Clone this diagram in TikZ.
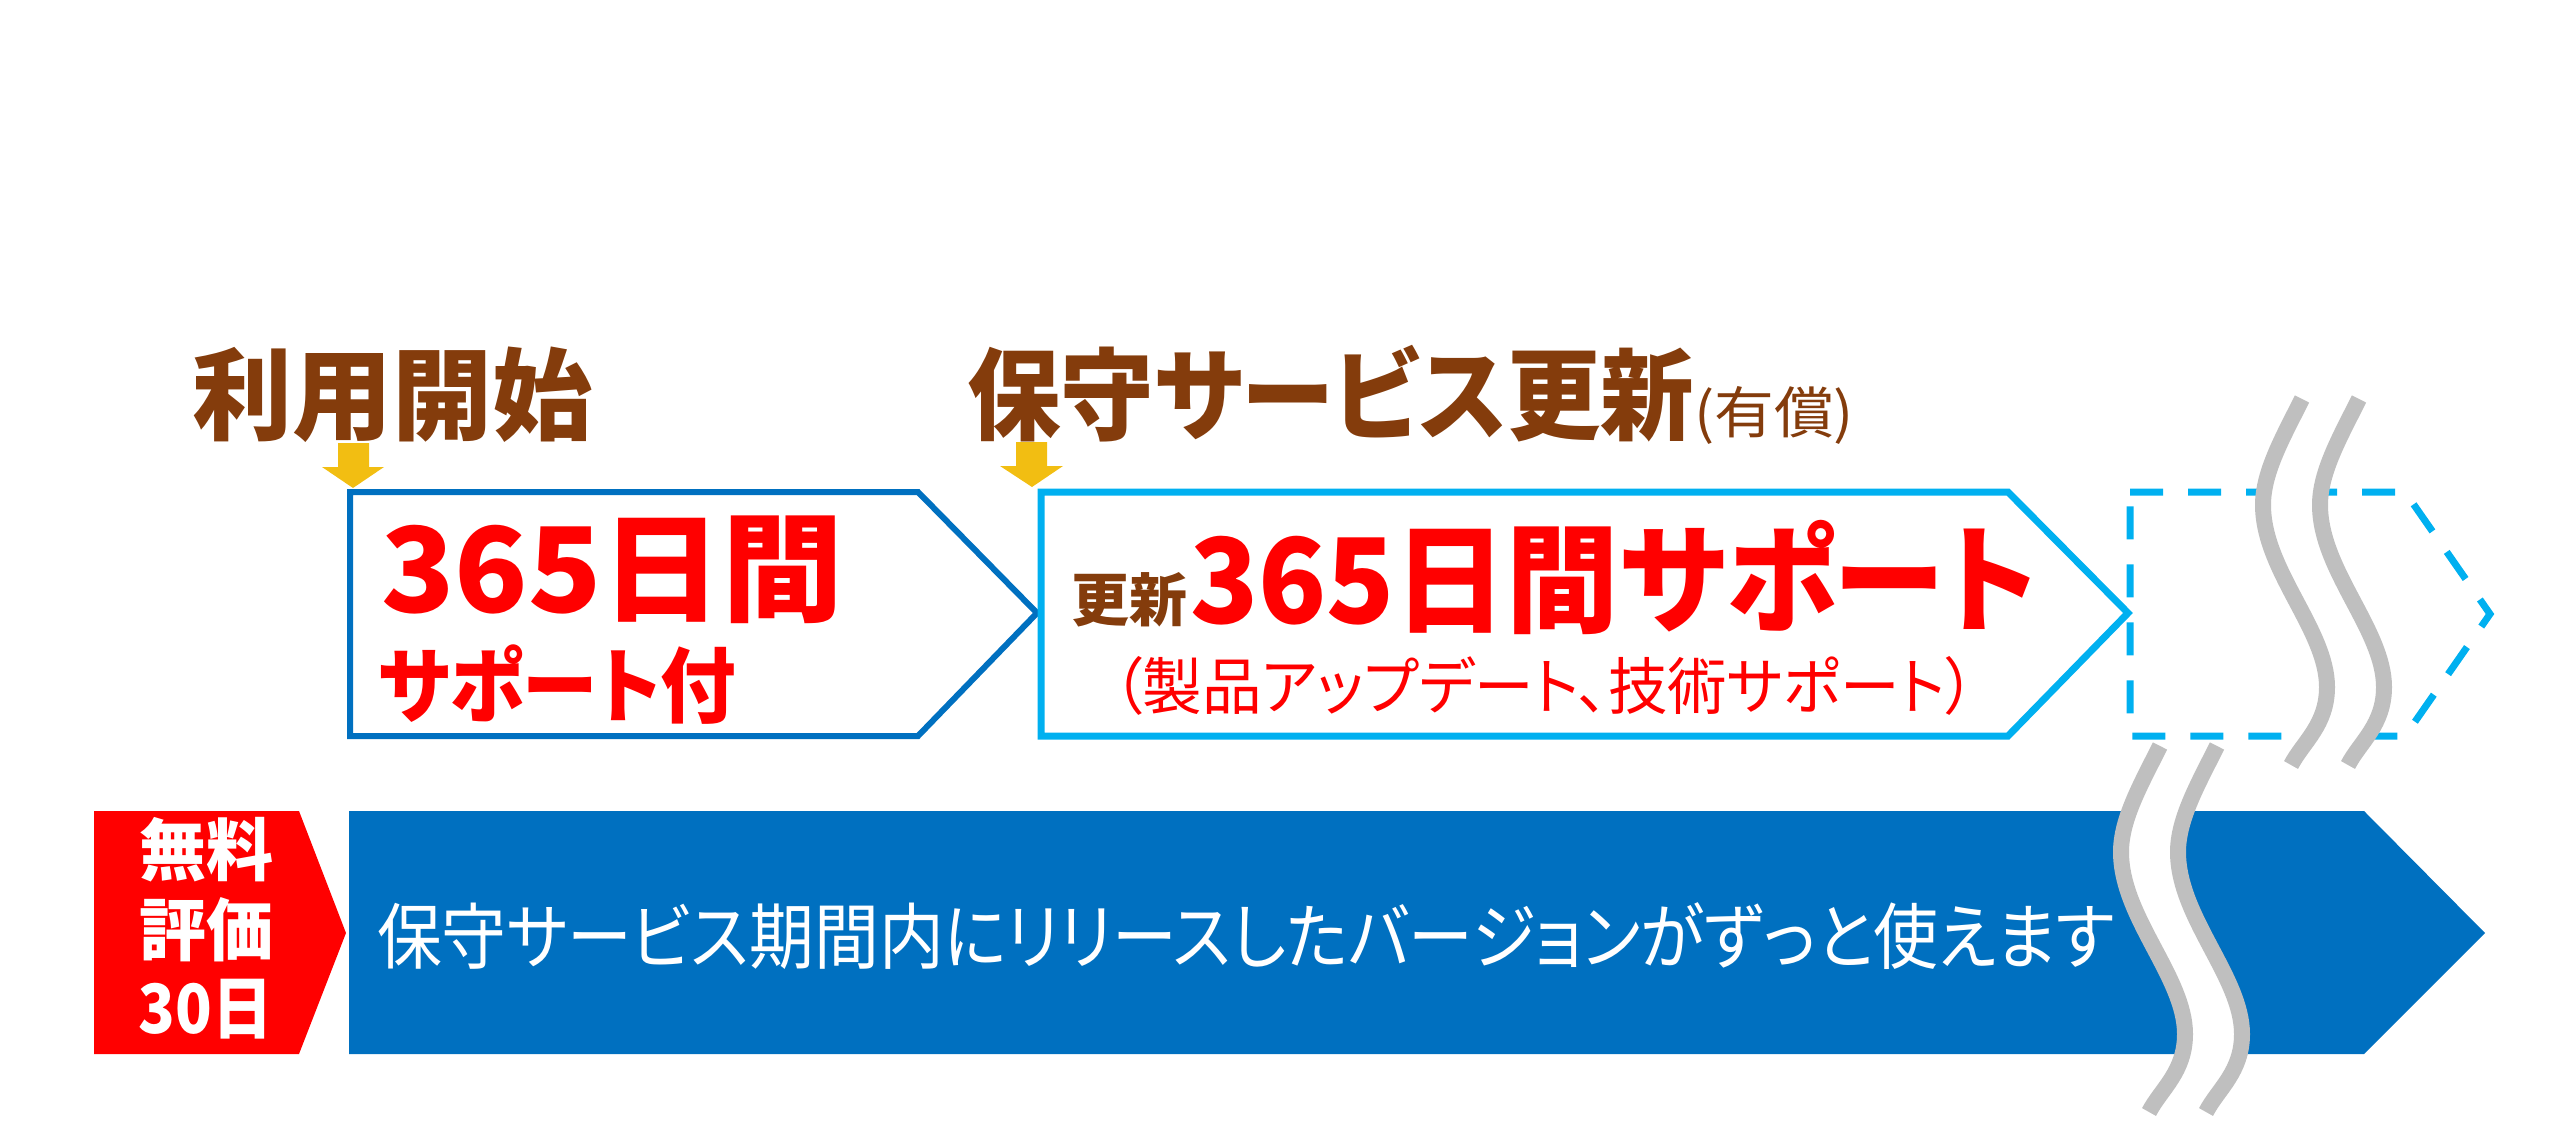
\documentclass[tikz,border=0pt]{standalone}
\usepackage{fontspec}
\usepackage{graphicx}
\newfontfamily\jp[RawFeature=+palt]{Noto Sans CJK JP}
\definecolor{brn}{RGB}{132,60,12}
\definecolor{rd}{RGB}{255,0,0}
\definecolor{dblue}{RGB}{0,112,192}
\definecolor{lblue}{RGB}{0,176,240}
\definecolor{gold}{RGB}{242,190,18}
\definecolor{wgray}{RGB}{191,191,191}
\newcommand\fitw[3]{\resizebox{#1pt}{\height}{\fontsize{#2pt}{#2pt}\selectfont\jp #3}}
\begin{document}
\begin{tikzpicture}[x=1pt,y=-1pt,
  txt/.style={anchor=base west,inner sep=0pt,outer sep=0pt},
  ctxt/.style={anchor=base,inner sep=0pt,outer sep=0pt,text=white},
  mark arrow/.style={fill=gold},
  wave/.style={draw=wgray,line width=16pt},
  gap/.style={fill=white}]
\useasboundingbox (0,0) rectangle (2560,1121);

% boxes
\draw[dblue,line width=6pt] (350,492) coordinate (b1a) -- (918,492) -- (1037,613) coordinate (b1tip) -- (918,736) -- (350,736) -- cycle;
\draw[lblue,line width=7pt] (1041,492) coordinate (b2a) -- (2008,492) -- (2128,613) coordinate (b2tip) -- (2008,736) -- (1041,736) -- cycle;
\draw[lblue,line width=7pt,dash pattern=on 33pt off 25pt] (2130,492) coordinate (b3a) -- (2405,492) -- (2490,614) coordinate (b3tip) -- (2405,736) -- (2130,736) -- cycle;

% bottom bar and red tag
\fill[dblue] (349,811) coordinate (bar) -- (2364,811) -- (2485,933) -- (2364,1054) -- (349,1054) -- cycle;
\fill[rd] (94,811) coordinate (tag) -- (299,811) -- (346,933) -- (299,1054) -- (94,1054) -- cycle;

% gold arrows
\fill[mark arrow] (338,443) -- (369,443) -- (369,467) -- (384,467) -- (353,488) coordinate (a1) -- (322,467) -- (338,467) -- cycle;
\fill[mark arrow] (1016,442) -- (1047,442) -- (1047,466) -- (1063,466) -- (1032,487) coordinate (a2) -- (1000,466) -- (1016,466) -- cycle;

% headings
\node[txt,text=brn] (h1) at (192,432) {\fontsize{100pt}{100pt}\selectfont\jp\bfseries 利用開始};
\node[txt,text=brn] (h2) at (967,432) {\fitw{727}{100}{\bfseries 保守サービス更新}};
\node[txt,text=brn] (h2b) at (1694,433) {\fitw{160}{56}{(有償)}};

% box 1 texts
\node[txt,text=rd] (t1) at (381,612) {\fitw{462}{118}{\bfseries 365日間}};
\node[txt,text=rd] (t2) at (378,716) {\fitw{358}{82}{\bfseries サポート付}};

% box 2 texts
\node[txt,text=brn] (t3) at (1071,621) {\fitw{116}{58}{\bfseries 更新}};
\node[txt,text=rd] (t4) at (1190,623) {\fitw{848}{118}{\bfseries 365日間サポート}};
\node[txt,text=rd] (t5) at (1113,709) {\fitw{862}{62}{（製品アップデート、技術サポート）}};

% red tag texts
\node[ctxt] (f1) at (206,875) {\fitw{134}{68}{\bfseries 無料}};
\node[ctxt] (f2) at (206,955) {\fitw{134}{68}{\bfseries 評価}};
\node[ctxt] (f3) at (206,1033) {\fitw{134}{68}{\bfseries 30日}};

% bar text
\node[txt,text=white] (bt) at (377,963) {\fitw{1738}{72}{保守サービス期間内にリリースしたバージョンがずっと使えます}};

% wavy break marks
\foreach \sx/\sy in {2302/399,2160/746}{
  \begin{scope}[shift={(\sx,\sy)}]
    \fill[gap] (0,0) .. controls (-19,38) and (-39,73) .. (-39,106) .. controls (-39,171) and (25,231) .. (25,288) .. controls (25,326) and (1,343) .. (-11,366)
      -- (46,366) .. controls (58,343) and (82,326) .. (82,288) .. controls (82,231) and (18,171) .. (18,106) .. controls (18,73) and (38,38) .. (57,0) -- cycle;
    \draw[wave] (0,0) .. controls (-19,38) and (-39,73) .. (-39,106) .. controls (-39,171) and (25,231) .. (25,288) .. controls (25,326) and (1,343) .. (-11,366);
    \draw[wave] (57,0) .. controls (38,38) and (18,73) .. (18,106) .. controls (18,171) and (82,231) .. (82,288) .. controls (82,326) and (58,343) .. (46,366);
  \end{scope}
}
\end{tikzpicture}
\end{document}
